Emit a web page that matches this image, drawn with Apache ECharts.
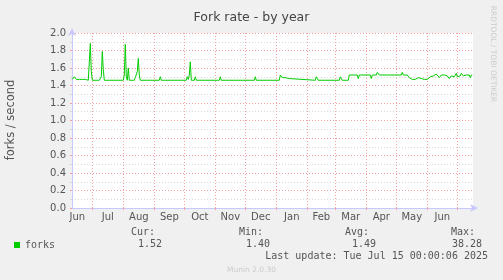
<!DOCTYPE html>
<html>
<head>
<meta charset="utf-8">
<script src="https://cdn.jsdelivr.net/npm/echarts@6/dist/echarts.min.js"></script>
<style>
  html, body { margin: 0; padding: 0; background: #f0f0f0; }
  #chart { width: 503px; height: 280px; }
</style>
</head>
<body>
<div id="chart"></div>
<script>
// x values are days relative to 1 Jul 2024
const days = [-20,-19,-18,-17,-16,-15,-14,-13,-12,-11,-10,-9,-8,-7,-6,-5,-4,-3,-2,-1,0,
  7,8,9,10,11,12,31,32,33,34,35,36,37,42,43,44,45,46,47,48,67,68,69,94,95,96,97,98,99,
  102,103,104,127,128,129,162,163,164,187,188,189,190,191,192,193,194,195,196,197,
  223,224,225,226,247,248,249,250,256,257,265,266,267,278,279,280,284,285,286,287,
  309,310,311,315,316,317,318,319,320,321,322,323,324,325,326,327,328,329,330,331,332,
  333,334,335,336,337,338,339,340,341,342,343,344,345,346,347,348,349,350,351,352,353,
  354,355,356,357,358,359,360,361,362,363,364,365,366,367,368,369,370,371,372,373,374,
  375,376,377,378,379,380];
const forks = [1.47,1.48,1.50,1.48,1.47,1.48,1.47,1.47,1.48,1.47,1.47,1.48,1.47,1.47,1.48,1.47,1.46,1.47,1.88,1.56,1.46,
  1.46,1.48,1.50,1.79,1.58,1.46,1.46,1.52,1.87,1.50,1.46,1.60,1.46,1.46,1.49,1.48,1.56,1.71,1.52,1.46,1.46,1.50,1.46,1.46,1.50,1.47,1.52,1.67,1.46,
  1.46,1.50,1.46,1.46,1.50,1.46,1.46,1.50,1.46,1.46,1.52,1.50,1.49,1.50,1.48,1.49,1.48,1.49,1.48,1.46,
  1.46,1.50,1.50,1.46,1.46,1.50,1.50,1.46,1.46,1.52,1.52,1.48,1.52,1.52,1.48,1.52,1.52,1.55,1.53,1.52,
  1.52,1.55,1.52,1.52,1.50,1.49,1.50,1.48,1.47,1.47,1.48,1.47,1.47,1.47,1.49,1.47,1.47,1.48,1.48,1.47,1.47,
  1.48,1.47,1.47,1.47,1.47,1.50,1.52,1.52,1.51,1.52,1.52,1.53,1.55,1.52,1.49,1.51,1.52,1.52,1.52,1.52,1.52,
  1.52,1.51,1.49,1.48,1.50,1.51,1.50,1.51,1.50,1.52,1.54,1.50,1.49,1.52,1.51,1.54,1.52,1.51,1.52,1.53,1.52,
  1.52,1.52,1.52,1.49,1.52,1.52];

const monthStarts = [0,31,62,92,123,153,184,215,243,274,304,335,365];
const monthLabelDays = [-15,15.5,46.5,77,107.5,138,168.5,199.5,229,258.5,289,319.5,350];
const monthLabels = ['Jun','Jul','Aug','Sep','Oct','Nov','Dec','Jan','Feb','Mar','Apr','May','Jun'];

const seriesName = 'forks';
const statHeaders = ['Cur:','Min:','Avg:','Max:'];
const statValues = ['1.52','1.40','1.49','38.28'];
const lastUpdate = 'Last update: Tue Jul 15 00:00:06 2025';

const chart = echarts.init(document.getElementById('chart'), null, {renderer: 'canvas'});
const mono = '"DejaVu Sans Mono", monospace';
const sans = '"DejaVu Sans", sans-serif';
const textGray = '#555';

const statX = [155, 263, 369, 475];
const valX  = [162, 270, 376, 482];

const graphics = [];
statHeaders.forEach((h, i) => {
  graphics.push({type:'text', x: statX[i], y: 232, style:{text:h, font:'10px '+mono, fill:textGray, textAlign:'right', textVerticalAlign:'middle'}});
  graphics.push({type:'text', x: valX[i], y: 244, style:{text:statValues[i], font:'10px '+mono, fill:textGray, textAlign:'right', textVerticalAlign:'middle'}});
});
graphics.push({type:'text', x: 488, y: 256, style:{text:lastUpdate, font:'10px '+mono, fill:textGray, textAlign:'right', textVerticalAlign:'middle'}});
graphics.push({type:'text', x: 251.5, y: 270, style:{text:'Munin 2.0.30', font:'7.5px '+sans, fill:'#cccccc', textAlign:'center', textVerticalAlign:'middle'}});
graphics.push({type:'text', x: 493, y: 54, rotation: -Math.PI/2, style:{text:'RRDTOOL / TOBI OETIKER', font:'7.5px '+sans, fill:'#cccccc', textAlign:'center', textVerticalAlign:'middle'}});
graphics.push({type:'text', x: 11, y: 120, rotation: Math.PI/2, style:{text:'forks / second', font:'11.5px '+sans, fill:textGray, textAlign:'center', textVerticalAlign:'middle'}});

const option = {
  backgroundColor: '#f0f0f0',
  animation: false,
  title: {
    text: 'Fork rate - by year', left: 'center', top: 6,
    textStyle: {fontFamily: sans, fontSize: 12.5, fontWeight: 'normal', color: '#444'}
  },
  legend: {
    left: 9, top: 235, icon: 'rect', itemWidth: 6, itemHeight: 6, itemGap: 6,
    textStyle: {fontFamily: mono, fontSize: 10, color: textGray, padding: [0,0,0,0]},
    data: [seriesName]
  },
  grid: {left: 72, top: 33, width: 401, height: 175, show: true, backgroundColor: '#ffffff', borderWidth: 0},
  xAxis: {
    type: 'value', min: -20.3, max: 380.7,
    axisLine: {show: true, onZero: false, lineStyle: {color: '#c8c8ff', width: 1}, symbol: ['none','arrow'], symbolSize: [6, 8], symbolOffset: [0, 5]},
    axisTick: {show: true, length: 2, customValues: monthStarts, lineStyle: {color: '#f4a0a0'}},
    splitLine: {show: true, lineStyle: {color: '#f4a0a0', type: [1, 2], width: 1}},
    axisLabel: {
      customValues: monthLabelDays, margin: 4, fontFamily: sans, fontSize: 10, color: textGray,
      formatter: (v) => { const i = monthLabelDays.findIndex(d => Math.abs(d - v) < 0.01); return i >= 0 ? monthLabels[i] : ''; }
    }
  },
  yAxis: {
    type: 'value', min: 0, max: 2, interval: 0.2,
    axisLine: {show: true, onZero: false, lineStyle: {color: '#c8c8ff', width: 1}, symbol: ['none','arrow'], symbolSize: [6, 8], symbolOffset: [0, 5]},
    axisTick: {show: true, length: 2, lineStyle: {color: '#f4a0a0'}},
    splitLine: {show: true, lineStyle: {color: '#f4a0a0', type: [1, 2], width: 1}},
    minorTick: {show: true, splitNumber: 2, length: 2, lineStyle: {color: '#d8d8d8'}},
    minorSplitLine: {show: true, lineStyle: {color: '#d8d8d8', type: [1, 2], width: 1}},
    axisLabel: {margin: 6, fontFamily: sans, fontSize: 10, color: textGray, formatter: (v) => v.toFixed(1)}
  },
  series: [{
    name: seriesName, type: 'line', symbol: 'none', showSymbol: false,
    lineStyle: {color: '#00cc00', width: 1}, itemStyle: {color: '#00cc00'},
    data: days.map((d, i) => [d, forks[i]])
  }],
  graphic: graphics
};
chart.setOption(option);
</script>
</body>
</html>
